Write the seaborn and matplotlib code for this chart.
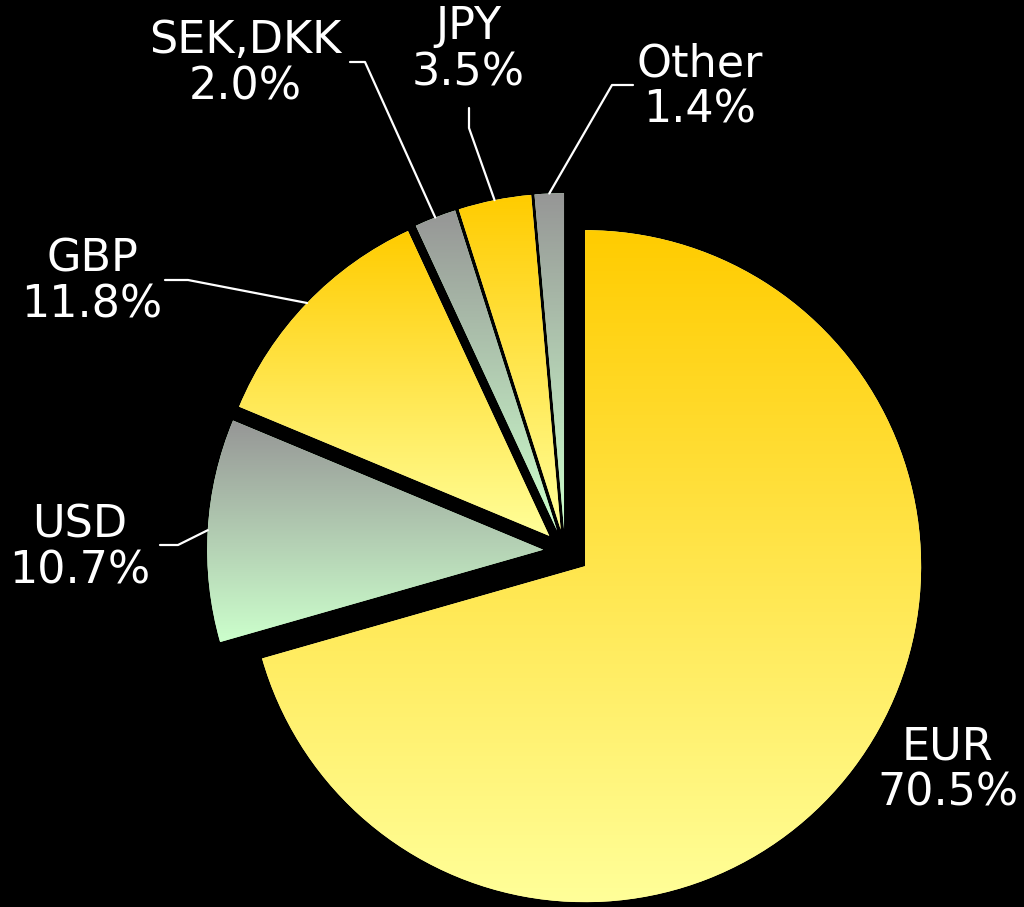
import numpy as np
import seaborn as sns
import matplotlib.pyplot as plt

# currency split of the portfolio (%), clockwise from 12 o'clock
currencies = ['EUR', 'USD', 'GBP', 'SEK,DKK', 'JPY', 'Other']
shares = [70.5, 10.7, 11.8, 2.0, 3.5, 1.4]
explode_frac = [0.075, 0.065, 0.065, 0.065, 0.065, 0.065]

# vertical gradients (bottom colour, top colour)
yellow = ['#FFFF99', '#FFCC00']
grey_green = ['#CCFFCC', '#969696']
fills = [yellow, grey_green, yellow, grey_green, yellow, grey_green]

# label placement in pixels (x, y from top) and leader-line elbows
label_pos = {'EUR': (948, 770), 'USD': (80, 548), 'GBP': (92, 282),
             'SEK,DKK': (245, 64), 'JPY': (468, 50), 'Other': (700, 87)}
elbows = {'USD': [(160, 545), (178, 545)], 'GBP': [(165, 280), (188, 280)],
          'SEK,DKK': [(350, 62), (365, 62)], 'JPY': [(469, 108), (469, 128)],
          'Other': [(633, 85), (612, 85)]}

W, H = 1024, 907
center = (565, H - 551)
radius = 336

sns.set_style('dark', {'axes.facecolor': 'black', 'figure.facecolor': 'black'})
plt.rcParams['font.family'] = ['DejaVu Sans']

fig = plt.figure(figsize=(W / 100, H / 100), dpi=100)
ax = fig.add_axes([0, 0, 1, 1])

# pie's explode is in data units, so scale by the radius
wedges, _ = ax.pie(shares, explode=[f * radius for f in explode_frac],
                   startangle=90, counterclock=False,
                   center=center, radius=radius, frame=True,
                   wedgeprops=dict(linewidth=0))

grad = np.linspace(0, 1, 256).reshape(-1, 1)
for wedge, cols in zip(wedges, fills):
    wedge.set_facecolor(cols[0])
    ext = wedge.get_path().get_extents()
    cmap = sns.blend_palette(cols, n_colors=256, as_cmap=True)
    img = ax.imshow(grad, cmap=cmap, origin='lower', aspect='auto',
                    extent=[ext.x0, ext.x1, ext.y0, ext.y1], zorder=2,
                    interpolation='bilinear')
    img.set_clip_path(wedge)

for wedge, name, share in zip(wedges, currencies, shares):
    tx, ty = label_pos[name]
    ax.text(tx, H - ty, f'{name}\n{share:.1f}%', color='white', fontsize=32,
            ha='center', va='center', linespacing=1.1, zorder=5)
    if name in elbows:
        # leader line ends on the wedge rim at its mid angle
        mid = np.deg2rad((wedge.theta1 + wedge.theta2) / 2)
        cx, cy = wedge.center
        rim = (cx + wedge.r * np.cos(mid), cy + wedge.r * np.sin(mid))
        pts = [(x, H - y) for x, y in elbows[name]] + [rim]
        xs, ys = zip(*pts)
        ax.plot(xs, ys, color='white', lw=1.6, zorder=4)

ax.set_xlim(0, W)
ax.set_ylim(0, H)
ax.set_aspect('auto')
ax.axis('off')

plt.savefig('out.png', dpi=100, facecolor='black')
